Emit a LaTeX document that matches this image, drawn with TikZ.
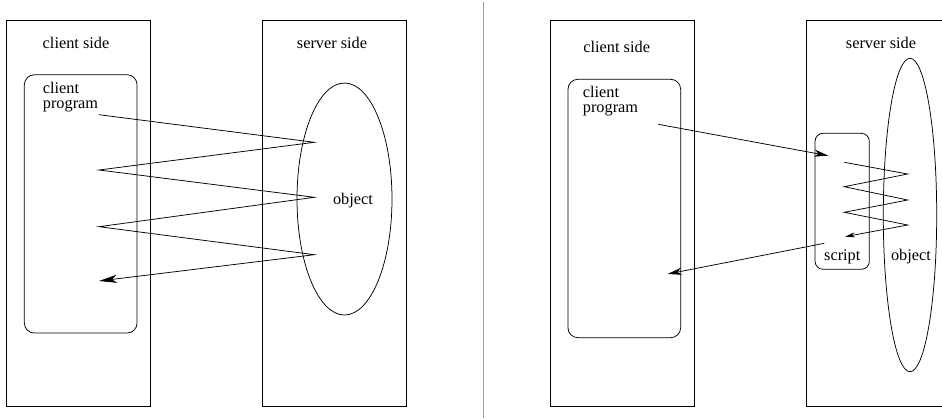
\documentclass[tikz,border=0pt]{standalone}
\usepackage{fontspec}
\setmainfont{Liberation Serif}
\usetikzlibrary{arrows.meta,shapes.geometric}
\begin{document}
\begin{tikzpicture}[x=1pt,y=-1pt,
  every node/.style={font=\fontsize{16.3}{15}\selectfont},
  frame/.style={draw, line width=0.75pt, rectangle, inner sep=0pt},
  roundbox/.style={frame, rounded corners=10pt},
  oval/.style={draw, line width=0.75pt, ellipse, inner sep=0pt},
  label/.style={inner sep=0pt},
  wire/.style={line width=0.75pt},
  bigtip/.style={wire, -{Stealth[length=18pt, width=8pt, inset=5pt]}},
  midtip/.style={wire, -{Stealth[length=14pt, width=7pt, inset=4pt]}},
  smalltip/.style={wire, -{Stealth[length=10pt, width=5pt, inset=3pt]}},
]
\clip (0,0) rectangle (942,418);
\fill[white] (0,0) rectangle (942,418);

% ---- left panel: direct object access ----
\node[frame, minimum width=143.5pt, minimum height=386pt] (lclient) at (78.5,213) {};
\node[frame, minimum width=143.6pt, minimum height=386pt] (lserver) at (334.5,213) {};
\node[roundbox, minimum width=112.7pt, minimum height=258.3pt] (lprog) at (80.7,203.9) {};
\node[oval, minimum width=95pt, minimum height=232pt] (lobj) at (344.5,199) {};
\node[label] (lclientlbl) at (76,43) {client side};
\node[label] (lserverlbl) at (332,43) {server side};
\node[label, anchor=north west, align=left] (lproglbl) at (42.7,81.8) {client\\program};
\node[label] (lobjlbl) at (353,201) {object};

\coordinate (p0) at (99,114.7);
\coordinate (p1) at (314.3,142.3);
\coordinate (p2) at (99,170);
\coordinate (p3) at (314.3,197.3);
\coordinate (p4) at (99,226.7);
\coordinate (p5) at (314.3,254.7);
\coordinate (p6) at (99,281);
\draw[bigtip] (p0) -- (p1) -- (p2) -- (p3) -- (p4) -- (p5) -- (p6);

% ---- divider ----
\coordinate (dtop) at (483.3,2);
\coordinate (dbot) at (483.3,418);
\draw[gray!75, line width=1.3pt] (dtop) -- (dbot);

% ---- right panel: access through a server script ----
\node[frame, minimum width=144pt, minimum height=386pt] (rclient) at (622,213) {};
\node[frame, minimum width=144pt, minimum height=386pt] (rserver) at (878.3,213) {};
\node[roundbox, minimum width=112.7pt, minimum height=258.4pt] (rprog) at (624.3,208.5) {};
\node[oval, minimum width=53.4pt, minimum height=313.4pt] (robj) at (910,215) {};
\node[roundbox, rounded corners=8pt, minimum width=54.3pt, minimum height=136pt] (rscript) at (842.2,201.3) {};
\node[label] (rclientlbl) at (616.7,46.7) {client side};
\node[label] (rserverlbl) at (881,42.7) {server side};
\node[label, anchor=north west, align=left] (rproglbl) at (582.7,86) {client\\program};
\node[label] (rscriptlbl) at (842.3,256.7) {script};
\node[label] (robjlbl) at (911,256.7) {object};

\coordinate (a0) at (658.3,124.3);
\coordinate (a1) at (828.3,155.7);
\draw[midtip] (a0) -- (a1);

\coordinate (z0) at (844.3,162.3);
\coordinate (z1) at (907.7,174);
\coordinate (z2) at (844.3,186.7);
\coordinate (z3) at (907.7,200);
\coordinate (z4) at (844.3,212.3);
\coordinate (z5) at (907.7,225);
\coordinate (z6) at (845,236.7);
\draw[smalltip] (z0) -- (z1) -- (z2) -- (z3) -- (z4) -- (z5) -- (z6);

\coordinate (b0) at (824.3,243.3);
\coordinate (b1) at (667.7,274);
\draw[midtip] (b0) -- (b1);
\end{tikzpicture}
\end{document}
